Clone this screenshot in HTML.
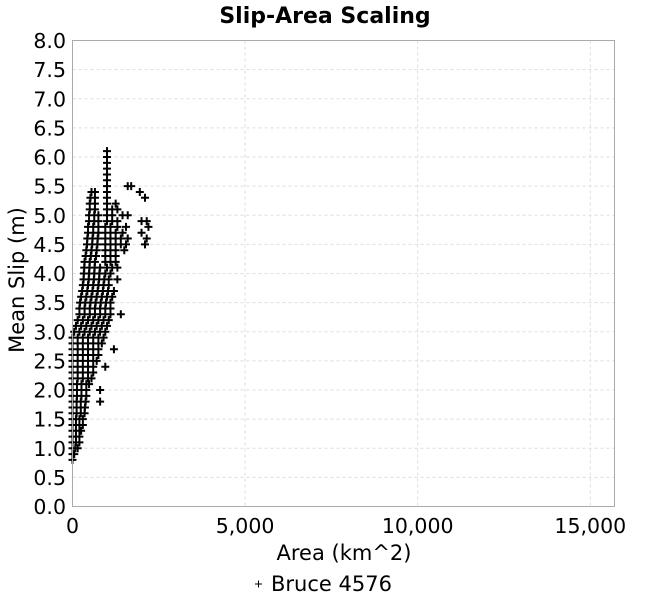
<!DOCTYPE html>
<html><head><meta charset="utf-8"><style>
body{margin:0;background:#fff;}
svg{display:block;font-family:"DejaVu Sans","Liberation Sans",sans-serif;}
</style></head><body>
<svg id="chart" width="650" height="600">
<text x="325" y="23" text-anchor="middle" font-size="22" font-weight="bold">Slip-Area Scaling</text>
<g id="grid"></g>
<g id="yticks"></g>
<g id="xticks"></g>
<g id="points"></g>
<rect x="72.5" y="40.5" width="542" height="466" fill="none" stroke="#aaa"/>
<text transform="translate(24,280) rotate(-90)" text-anchor="middle" font-size="21">Mean Slip (m)</text>
<text x="344" y="560" text-anchor="middle" font-size="21">Area (km^2)</text>
<g>
<path d="M255 584h7M258.5 580.5v7" stroke="#000"/>
<text x="271" y="591" font-size="21">Bruce 4576</text>
</g>
</svg>
<script>
const yTicks=[0,0.5,1,1.5,2,2.5,3,3.5,4,4.5,5,5.5,6,6.5,7,7.5,8];
const xTicks=[0,5000,10000,15000];
const xTickLabels=["0","5,000","10,000","15,000"];
const slipRows=[0.8,0.9,1.0,1.1,1.2,1.3,1.4,1.5,1.6,1.7,1.8,1.9,2.0,2.1,2.2,2.3,2.4,2.5,2.6,2.7,2.8,2.9,3.0,3.1,3.2,3.3,3.4,3.5,3.6,3.7,3.8,3.9,4.0,4.1,4.2,4.3,4.4,4.5,4.6,4.7,4.8,4.9,5.0,5.1,5.2,5.3,5.4,5.5,5.6,5.7,5.8,5.9,6.0,6.1];
const areaRows=[
[0],[0,50],[0,80,150],[0,100,200],[0,100,200],[0,100,200,250],[0,100,200,300],[0,100,200,300],
[0,120,240,350],[0,120,240,360],[0,120,240,380,800],[0,130,260,400],[0,130,260,400,800],[0,130,260,400,480],
[0,150,300,450,550],[0,150,300,450,600],[0,150,300,450,600,950],[0,150,300,450,600,700],[0,150,300,450,600,750],
[0,150,300,450,600,750,1200],[0,150,300,450,600,750,850],[0,150,300,450,600,750,900],
[50,200,350,500,650,800,950],[100,250,400,550,700,850,1000],[150,300,450,600,750,900,1050],
[200,350,500,650,800,950,1100,1400],[200,350,500,650,800,950,1100],[220,370,520,670,820,970,1100],
[250,400,550,700,850,1000,1150],[280,430,580,730,880,1030,1200],[300,450,600,750,900,1050],
[320,470,620,770,920,1050,1300],[330,480,630,780,950,1100],[340,490,640,800,1000,1150,1300],
[350,500,650,950,1100,1250],[380,530,680,950,1100,1250],[400,550,700,950,1100,1250,1500],
[420,570,720,950,1100,1250,1400,1550,2100],[430,580,730,950,1100,1250,1400,1600,2150],
[450,600,750,950,1100,1250,1450,2000],[450,600,750,950,1100,1300,1550,2200],
[480,630,750,1000,1150,1300,2000,2150],[480,630,750,1000,1150,1450,1600],
[500,650,1000,1150,1300],[500,650,1000,1250],[520,650,1000,2100],[550,650,1000,1950],
[1000,1600,1700],[1000],[1000],[1000],[1000],[1000],[1000]];
const NS="http://www.w3.org/2000/svg";
function xs(v){return 72.5+v*0.03452;}
function ys(v){return 506.5-v*58.25;}
function mk(tag,attrs,parent){const e=document.createElementNS(NS,tag);for(const k in attrs)e.setAttribute(k,attrs[k]);parent.appendChild(e);return e;}
const grid=document.getElementById('grid'),yt=document.getElementById('yticks'),xt=document.getElementById('xticks'),pts=document.getElementById('points');
yTicks.forEach(v=>{
 const l=mk('line',{x1:72.5,x2:614.5,y1:ys(v),y2:ys(v),stroke:'#ddd','stroke-dasharray':'3,3'},grid);
 
 
 const t=mk('text',{x:66,y:ys(v)+7.5,'text-anchor':'end','font-size':20.5},yt);
 t.textContent=v.toFixed(1);
 
 
});
xTicks.forEach((v,i)=>{
 const l=mk('line',{x1:xs(v),x2:xs(v),y1:40.5,y2:506.5,stroke:'#ddd','stroke-dasharray':'3,3'},grid);
 
 
 const t=mk('text',{x:xs(v),y:533,'text-anchor':'middle','font-size':20.5},xt);
 t.textContent=xTickLabels[i];
 
 
});
let d='';
slipRows.forEach((s,i)=>{areaRows[i].forEach(a=>{const x=xs(a),y=ys(s);d+=`M${x-4} ${y}h8M${x} ${y-4}v8`;});});
const p=mk('path',{d:d,stroke:'#000','stroke-width':2,fill:'none'},pts);


</script>
</body></html>
